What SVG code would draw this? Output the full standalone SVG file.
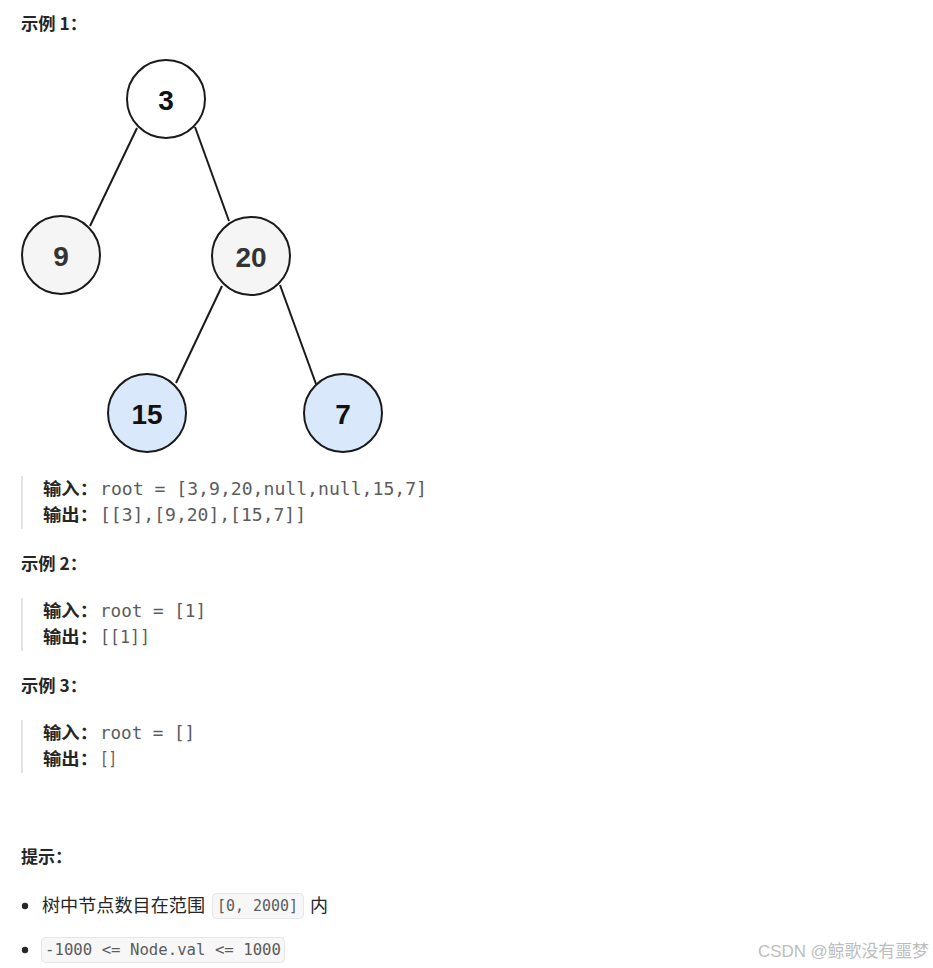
<svg xmlns="http://www.w3.org/2000/svg" width="933" height="968" viewBox="0 0 933 968">
<style>
.h{font-family:"Noto Sans CJK SC","Liberation Sans",sans-serif;font-weight:bold;font-size:17.5px;fill:#262626}
.lbl{font-family:"Noto Sans CJK SC","Liberation Sans",sans-serif;font-weight:bold;font-size:17.5px;fill:#262626}
.code{font-family:"DejaVu Sans Mono","Liberation Mono",monospace;font-size:17px;fill:#5c5c5c}
.txt{font-family:"Noto Sans CJK SC","Liberation Sans",sans-serif;font-size:18px;fill:#262626}
.pill{fill:#f7f7f7;stroke:#e6e6e6;stroke-width:1}
.pc{font-family:"DejaVu Sans Mono","Liberation Mono",monospace;font-size:15px;fill:#5c5c5c}
.bar{stroke:#e3e3e3;stroke-width:2}
.node circle{stroke:#1a1a1a;stroke-width:2}
.node text{font-family:"Liberation Sans",Arial,sans-serif;font-weight:bold;font-size:28px;text-anchor:middle}
.edge{stroke:#1a1a1a;stroke-width:2}
</style>
<rect width="933" height="968" fill="#ffffff"/>
<text class="h" x="21" y="30" textLength="66" lengthAdjust="spacingAndGlyphs">示例 1：</text>
<g id="connectors">
<line class="edge" x1="137" y1="128" x2="90" y2="226"/>
<line class="edge" x1="195" y1="127" x2="229" y2="221"/>
<line class="edge" x1="222" y1="286" x2="176" y2="383"/>
<line class="edge" x1="280" y1="285" x2="316" y2="384"/>
</g>
<g id="n3" class="node"><circle cx="166" cy="99" r="39" fill="#ffffff"/><text x="166" y="110" fill="#111">3</text></g>
<g id="n9" class="node"><circle cx="61" cy="255" r="39" fill="#f5f5f5"/><text x="61" y="266" fill="#333">9</text></g>
<g id="n20" class="node"><circle cx="251" cy="256" r="39" fill="#f5f5f5"/><text x="251" y="267" fill="#333">20</text></g>
<g id="n15" class="node"><circle cx="147" cy="413" r="39" fill="#dae8fc"/><text x="147" y="424" fill="#111">15</text></g>
<g id="n7" class="node"><circle cx="343" cy="413" r="39" fill="#dae8fc"/><text x="343" y="424" fill="#111">7</text></g>

<line class="bar" x1="22" y1="476" x2="22" y2="529"/>
<text class="lbl" x="43" y="495" textLength="55" lengthAdjust="spacingAndGlyphs">输入：</text>
<text class="code" x="100" y="495" textLength="327" lengthAdjust="spacingAndGlyphs">root = [3,9,20,null,null,15,7]</text>
<text class="lbl" x="43" y="521" textLength="55" lengthAdjust="spacingAndGlyphs">输出：</text>
<text class="code" x="100" y="521" textLength="206" lengthAdjust="spacingAndGlyphs">[[3],[9,20],[15,7]]</text>

<text class="h" x="21" y="570" textLength="66" lengthAdjust="spacingAndGlyphs">示例 2：</text>
<line class="bar" x1="22" y1="598" x2="22" y2="651"/>
<text class="lbl" x="43" y="617" textLength="55" lengthAdjust="spacingAndGlyphs">输入：</text>
<text class="code" x="100" y="617" textLength="106" lengthAdjust="spacingAndGlyphs">root = [1]</text>
<text class="lbl" x="43" y="643" textLength="55" lengthAdjust="spacingAndGlyphs">输出：</text>
<text class="code" x="100" y="643" textLength="50" lengthAdjust="spacingAndGlyphs">[[1]]</text>

<text class="h" x="21" y="692" textLength="66" lengthAdjust="spacingAndGlyphs">示例 3：</text>
<line class="bar" x1="22" y1="720" x2="22" y2="773"/>
<text class="lbl" x="43" y="739" textLength="55" lengthAdjust="spacingAndGlyphs">输入：</text>
<text class="code" x="100" y="739" textLength="95" lengthAdjust="spacingAndGlyphs">root = []</text>
<text class="lbl" x="43" y="765" textLength="55" lengthAdjust="spacingAndGlyphs">输出：</text>
<text class="code" x="100" y="765" textLength="17" lengthAdjust="spacingAndGlyphs">[]</text>

<text class="h" x="21" y="863" textLength="51" lengthAdjust="spacingAndGlyphs">提示：</text>
<circle cx="25" cy="906" r="3.2" fill="#262626"/>
<text class="txt" x="42" y="912" textLength="163" lengthAdjust="spacingAndGlyphs">树中节点数目在范围</text>
<rect class="pill" x="212.5" y="893.5" width="91" height="25" rx="4"/>
<text class="pc" x="217" y="911" textLength="81" lengthAdjust="spacingAndGlyphs">[0, 2000]</text>
<text class="txt" x="310" y="912">内</text>
<circle cx="25" cy="950" r="3.2" fill="#262626"/>
<rect class="pill" x="41.5" y="937.5" width="243" height="25" rx="4"/>
<text class="pc" x="45" y="955" textLength="236" lengthAdjust="spacingAndGlyphs">-1000 &lt;= Node.val &lt;= 1000</text>

<text x="758" y="957" textLength="171" lengthAdjust="spacingAndGlyphs" style="font-family:'Liberation Sans','Noto Sans CJK SC',sans-serif;font-size:17px;fill:#bdbdbd">CSDN @鲸歌没有噩梦</text>
</svg>
